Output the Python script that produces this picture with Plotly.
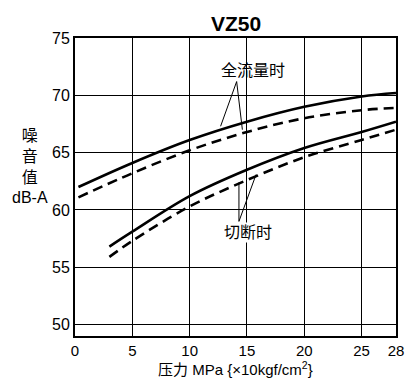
import plotly.graph_objects as go

# pressure (MPa) and noise level (dB-A)
full_x = [0.3, 5, 10, 15, 20, 25, 28]
full_solid = [62.0, 64.1, 66.1, 67.7, 69.0, 69.9, 70.2]
full_dash = [61.1, 63.2, 65.2, 66.8, 68.0, 68.7, 68.9]

cut_x = [3, 5, 10, 15, 20, 25, 28]
cut_solid = [56.8, 58.1, 61.2, 63.5, 65.4, 66.8, 67.7]
cut_dash = [55.9, 57.3, 60.3, 62.6, 64.6, 66.1, 67.0]

# leader lines for the two labels
full_leader_x = [12.7, 14.1, 14.6]
full_leader_y = [67.3, 71.2, 67.0]
cut_leader_x = [14.3, 14.3, 15.8]
cut_leader_y = [62.4, 59.0, 63.1]

x_ticks = [0, 5, 10, 15, 20, 25, 28]
y_ticks = [50, 55, 60, 65, 70, 75]

fig = go.Figure()
for xs, ys, dash in [(full_x, full_solid, "solid"), (full_x, full_dash, "10px,6px"),
                     (cut_x, cut_solid, "solid"), (cut_x, cut_dash, "10px,6px")]:
    fig.add_trace(go.Scatter(x=xs, y=ys, mode="lines", line=dict(color="black", width=2.6, dash=dash, shape="spline")))
fig.add_trace(go.Scatter(x=full_leader_x, y=full_leader_y, mode="lines", line=dict(color="black", width=1)))
fig.add_trace(go.Scatter(x=cut_leader_x, y=cut_leader_y, mode="lines", line=dict(color="black", width=1)))

fig.add_annotation(x=15.5, y=72.2, text="全流量时", showarrow=False, font=dict(size=16, color="black"))
fig.add_annotation(x=15.1, y=58.0, text="切断时", showarrow=False, font=dict(size=16, color="black"),
                   bgcolor="white")
fig.add_annotation(x=0.5, xref="paper", y=1.0, yref="paper", yanchor="bottom", yshift=1,
                   text="<b>VZ50</b>", showarrow=False, font=dict(size=21, color="black"))
fig.add_annotation(x=-0.14, xref="paper", xanchor="center", y=0.57, yref="paper", yanchor="middle",
                   text="噪<br>音<br>值<br>dB-A", showarrow=False, font=dict(size=16, color="black"),
                   align="center")
fig.add_annotation(x=0.5, xref="paper", xanchor="center", y=0, yref="paper", yanchor="middle", yshift=-32,
                   text="压力 MPa {×10kgf/cm<sup>2</sup>}", showarrow=False, font=dict(size=15, color="black"))

fig.update_layout(
    width=407, height=383, showlegend=False,
    margin=dict(l=75, r=11, t=38, b=47),
    plot_bgcolor="white", paper_bgcolor="white",
    font=dict(family="Liberation Sans, Noto Sans CJK SC", size=16, color="black"),
)
fig.update_xaxes(range=[0, 28], tickvals=x_ticks, ticks="", showgrid=True, gridcolor="black", gridwidth=1,
                 showline=True, linecolor="black", linewidth=2, mirror=True, zeroline=False, automargin=False,
                 tickfont=dict(size=15))
fig.update_yaxes(range=[49, 75], tickvals=y_ticks, ticks="", showgrid=True, gridcolor="black", gridwidth=1,
                 showline=True, linecolor="black", linewidth=2, mirror=True, zeroline=False, automargin=False)

# drop the browser's default 8px body margin so the figure fills the window
fig.write_html("out.html", config={"displayModeBar": False},
               post_script="document.body.style.margin='0';")
